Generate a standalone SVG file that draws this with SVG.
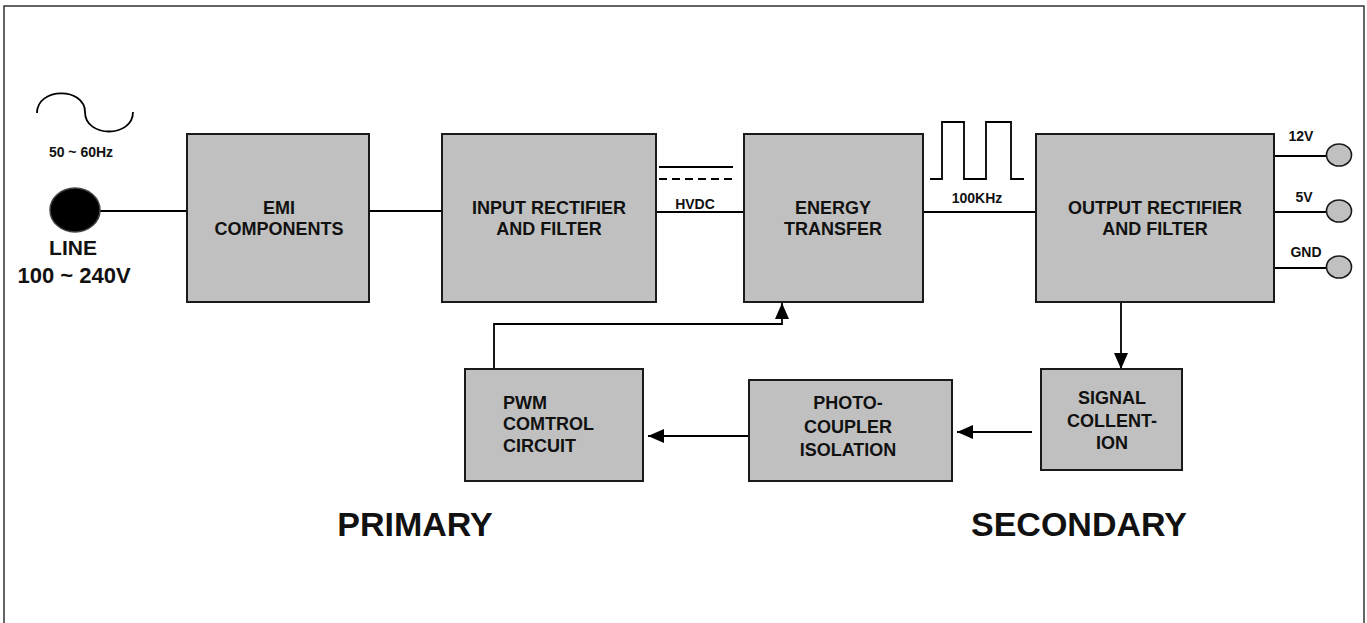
<svg xmlns="http://www.w3.org/2000/svg" width="1367" height="623" viewBox="0 0 1367 623">
<defs>
<marker id="ah" viewBox="0 0 16 14" refX="16" refY="7" markerWidth="16" markerHeight="14" markerUnits="userSpaceOnUse" orient="auto">
<path d="M0,0 L16,7 L0,14 Z" fill="#000"/>
</marker>
</defs>
<style>
.box{fill:#c0c0c0;stroke:#1a1a1a;stroke-width:2}
.ln{fill:none;stroke:#000;stroke-width:1.8}
.t{font-family:"Liberation Sans",Arial,sans-serif;font-weight:bold;fill:#111;font-size:18px;text-anchor:middle}
.s{font-size:14px}
.big{font-size:34px}
.term{fill:#c0c0c0;stroke:#1a1a1a;stroke-width:1.6}
</style>
<rect x="4" y="6" width="1360" height="640" fill="#fff" stroke="#333" stroke-width="1.5"/>

<g id="connectors">
<line class="ln" x1="100" y1="211" x2="187" y2="211"/>
<line class="ln" x1="369" y1="211" x2="442" y2="211"/>
<line class="ln" x1="656" y1="212" x2="744" y2="212"/>
<line class="ln" x1="923" y1="212" x2="1036" y2="212"/>
<line class="ln" x1="1274" y1="156" x2="1327" y2="156"/>
<line class="ln" x1="1274" y1="212" x2="1327" y2="212"/>
<line class="ln" x1="1274" y1="268" x2="1327" y2="268"/>
<path class="ln" d="M494,369 V324 H782 V303" marker-end="url(#ah)"/>
<line class="ln" x1="1121" y1="302" x2="1121" y2="369" marker-end="url(#ah)"/>
<line class="ln" x1="1032" y1="432" x2="957" y2="432" marker-end="url(#ah)"/>
<line class="ln" x1="749" y1="436" x2="648" y2="436" marker-end="url(#ah)"/>
</g>

<g id="source">
<path class="ln" d="M37,113 C37,87 85,87 85,112 C85,138 133,138 133,112"/>
<text class="t s" x="81" y="157">50 ~ 60Hz</text>
<ellipse cx="75" cy="210" rx="25" ry="22" fill="#000" stroke="#444" stroke-width="1.5"/>
<text class="t" style="font-size:21px" x="73" y="255">LINE</text>
<text class="t" style="font-size:22px" x="74" y="283">100 ~ 240V</text>
</g>

<g id="emi">
<rect class="box" x="187" y="134" width="182" height="168"/>
<text class="t" x="279" y="214">EMI</text>
<text class="t" x="279" y="235">COMPONENTS</text>
</g>

<g id="input-rectifier">
<rect class="box" x="442" y="134" width="214" height="168"/>
<text class="t" x="549" y="214">INPUT RECTIFIER</text>
<text class="t" x="549" y="235">AND FILTER</text>
</g>

<g id="hvdc">
<line class="ln" x1="659" y1="167" x2="733" y2="167"/>
<line class="ln" x1="659" y1="179" x2="733" y2="179" stroke-dasharray="8,5"/>
<text class="t s" x="695" y="209">HVDC</text>
</g>

<g id="energy-transfer">
<rect class="box" x="744" y="134" width="179" height="168"/>
<text class="t" x="833" y="214">ENERGY</text>
<text class="t" x="833" y="235">TRANSFER</text>
</g>

<g id="pulse">
<path class="ln" d="M930,179 H942 V122 H964 V179 H986 V122 H1011 V179 H1024"/>
<text class="t s" x="977" y="203">100KHz</text>
</g>

<g id="output-rectifier">
<rect class="box" x="1036" y="134" width="238" height="168"/>
<text class="t" x="1155" y="214">OUTPUT RECTIFIER</text>
<text class="t" x="1155" y="235">AND FILTER</text>
</g>

<g id="outputs">
<ellipse class="term" cx="1339" cy="155" rx="12.5" ry="11"/>
<ellipse class="term" cx="1339" cy="211" rx="12.5" ry="11"/>
<ellipse class="term" cx="1339" cy="267" rx="12.5" ry="11"/>
<text class="t s" x="1301" y="141">12V</text>
<text class="t s" x="1304" y="202">5V</text>
<text class="t s" x="1306" y="257">GND</text>
</g>

<g id="pwm">
<rect class="box" x="465" y="369" width="178" height="112"/>
<text class="t" style="text-anchor:start" x="503" y="409">PWM</text>
<text class="t" style="text-anchor:start" x="503" y="430">COMTROL</text>
<text class="t" style="text-anchor:start" x="503" y="452">CIRCUIT</text>
</g>

<g id="photocoupler">
<rect class="box" x="749" y="380" width="203" height="101"/>
<text class="t" x="848" y="409">PHOTO-</text>
<text class="t" x="848" y="433">COUPLER</text>
<text class="t" x="848" y="456">ISOLATION</text>
</g>

<g id="signal">
<rect class="box" x="1041" y="369" width="141" height="101"/>
<text class="t" x="1112" y="404">SIGNAL</text>
<text class="t" x="1112" y="427">COLLENT-</text>
<text class="t" x="1112" y="449">ION</text>
</g>

<g id="labels">
<text class="t big" x="415" y="536">PRIMARY</text>
<text class="t big" x="1079" y="536">SECONDARY</text>
</g>
</svg>
